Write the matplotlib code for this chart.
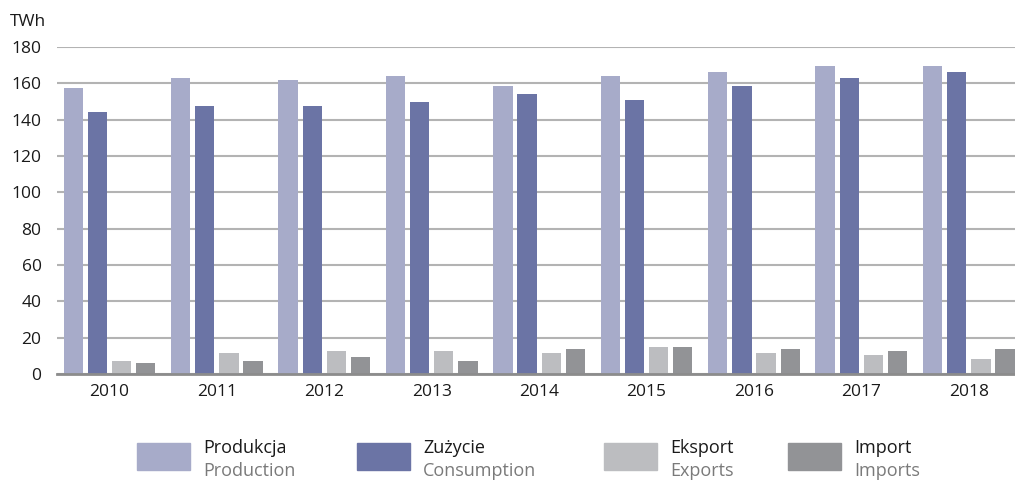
import numpy as np
import matplotlib.pyplot as plt
from matplotlib.patches import Rectangle

years = ['2010', '2011', '2012', '2013', '2014', '2015', '2016', '2017', '2018']
produkcja = [157.6, 163.2, 162.1, 164.3, 158.7, 164.3, 166.5, 169.8, 169.8]
zuzycie = [144.4, 147.7, 147.7, 149.9, 154.3, 151.0, 158.7, 163.2, 166.5]
eksport = [7.4, 11.8, 12.9, 12.9, 11.8, 15.1, 11.8, 10.7, 8.5]
import_ = [6.3, 7.4, 9.6, 7.4, 14.0, 15.1, 14.0, 12.9, 14.0]

series = [produkcja, zuzycie, eksport, import_]
colors = ['#a7abc9', '#6b74a5', '#bcbdc0', '#929396']
labels_pl = ['Produkcja', 'Zużycie', 'Eksport', 'Import']
labels_en = ['Production', 'Consumption', 'Exports', 'Imports']

plt.rcParams['font.family'] = ['Open Sans', 'DejaVu Sans']

fig = plt.figure(figsize=(10.15, 4.82), dpi=100)
ax = fig.add_axes([0.056, 0.224, 0.944, 0.6785])

x = np.arange(len(years))
width = 0.18
step = 0.225
for i, (vals, col) in enumerate(zip(series, colors)):
    ax.bar(x + (i - 1.5) * step, vals, width=width, color=col, zorder=3)

ax.set_ylim(0, 180)
ax.set_xlim(-0.49, 8.43)
ax.set_yticks(np.arange(0, 181, 20))
ax.set_xticks(x)
ax.set_xticklabels(years)
ax.yaxis.grid(True, color='#b3b3b3', linewidth=1.5, zorder=0)
for s in ['left', 'right', 'top']:
    ax.spines[s].set_visible(False)
ax.spines['bottom'].set_color('#8c8c8c')
ax.spines['bottom'].set_linewidth(2)
ax.spines['bottom'].set_zorder(4)
ax.tick_params(axis='both', length=0, labelsize=12.5, colors='#1a1a1a')
ax.tick_params(axis='x', pad=7)
ax.tick_params(axis='y', pad=11)

fig.text(0.010, 0.955, 'TWh', fontsize=12.5, color='#1a1a1a', va='center', ha='left')

# legend drawn manually
W, H = 1015, 482
patch_x = [137, 357, 604, 788]
for px, col, pl, en in zip(patch_x, colors, labels_pl, labels_en):
    fig.patches.append(Rectangle((px / W, 1 - 470 / H), 53 / W, 27 / H,
                                 transform=fig.transFigure, color=col))
    fig.text((px + 66) / W, 1 - 448 / H, pl, fontsize=13, color='#1a1a1a', va='center', ha='left')
    fig.text((px + 66) / W, 1 - 471 / H, en, fontsize=13, color='#7a7a7a', va='center', ha='left')

fig.savefig('out.png', dpi=100)
